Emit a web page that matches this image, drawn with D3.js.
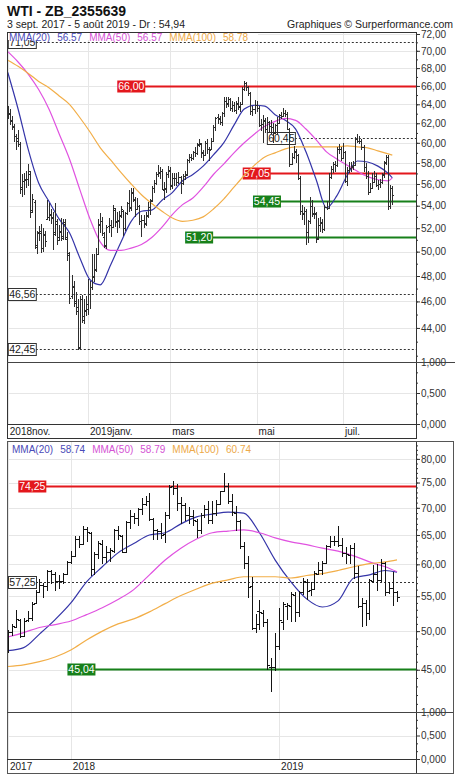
<!DOCTYPE html>
<html>
<head>
<meta charset="utf-8">
<script src="https://cdn.jsdelivr.net/npm/d3@7"></script>
<style>
body { margin: 0; background: #fff; }
svg { display: block; }
</style>
</head>
<body>
<div id="chart"></div>
<script>
// daily bars, top chart: date, open, high, low, close
const dailyOHLC = [
["2018-11-05",63.2,63.8,62.4,63.10],["2018-11-06",63.0,63.5,61.8,62.21],["2018-11-07",62.3,62.8,61.3,61.67],
["2018-11-08",61.6,61.9,60.1,60.67],["2018-11-09",60.7,60.9,59.3,60.19],["2018-11-12",60.5,61.3,59.6,59.93],
["2018-11-13",59.9,60.1,55.1,55.69],["2018-11-14",55.5,56.9,54.8,56.25],["2018-11-15",56.3,57.0,55.0,56.46],
["2018-11-16",56.4,57.2,55.6,56.46],["2018-11-19",56.5,57.9,55.8,57.20],["2018-11-20",56.9,57.2,52.9,53.43],
["2018-11-21",53.6,55.1,53.3,54.63],["2018-11-23",54.3,54.5,50.2,50.42],["2018-11-26",50.6,51.8,49.8,51.63],
["2018-11-27",51.6,52.2,50.9,51.56],["2018-11-28",51.8,52.4,49.9,50.29],["2018-11-29",50.3,52.0,50.0,51.45],
["2018-11-30",51.5,51.8,50.4,50.93],
["2018-12-03",52.8,54.5,52.7,52.95],["2018-12-04",53.0,54.2,52.6,53.25],["2018-12-05",53.2,53.7,52.4,52.89],
["2018-12-06",53.0,53.4,50.1,51.49],["2018-12-07",51.7,54.2,51.3,52.61],["2018-12-10",52.4,52.8,50.6,51.00],
["2018-12-11",51.2,52.3,50.9,51.65],["2018-12-12",51.8,52.9,50.9,51.15],["2018-12-13",51.3,52.8,51.0,52.58],
["2018-12-14",52.4,52.8,51.0,51.20],["2018-12-17",51.1,51.7,49.2,49.88],["2018-12-18",49.7,50.0,45.8,46.24],
["2018-12-19",46.4,48.1,46.2,47.20],["2018-12-20",47.1,47.6,45.6,45.88],["2018-12-21",46.0,46.7,45.0,45.59],
["2018-12-24",45.3,46.2,42.4,42.53],["2018-12-26",42.6,46.4,42.4,46.22],["2018-12-27",46.2,46.5,44.4,44.61],
["2018-12-28",44.9,46.2,44.3,45.33],["2018-12-31",45.3,46.4,44.9,45.41],
["2019-01-02",45.8,47.8,45.0,46.54],["2019-01-03",46.6,47.6,45.4,47.09],["2019-01-04",47.1,49.8,46.9,47.96],
["2019-01-07",48.0,49.8,47.5,48.52],["2019-01-08",48.6,50.3,48.3,49.78],["2019-01-09",49.8,52.8,49.7,52.36],
["2019-01-10",52.3,53.3,51.6,52.59],["2019-01-11",52.6,53.0,51.3,51.59],["2019-01-14",51.2,51.7,50.3,50.51],
["2019-01-15",50.6,52.3,50.2,52.11],["2019-01-16",52.2,52.9,51.6,52.31],["2019-01-17",52.3,52.7,51.2,52.07],
["2019-01-18",52.1,54.1,52.0,53.80],["2019-01-22",53.6,53.8,52.1,52.57],["2019-01-23",52.6,53.4,51.6,52.62],
["2019-01-24",52.7,53.5,52.0,53.13],["2019-01-25",53.1,54.0,52.9,53.69],["2019-01-28",53.5,53.6,51.3,51.99],
["2019-01-29",52.0,53.4,51.8,53.31],["2019-01-30",53.3,54.3,53.2,54.23],["2019-01-31",54.2,55.4,53.4,53.79],
["2019-02-01",53.9,55.6,53.5,55.26],["2019-02-04",55.2,55.6,54.3,54.56],["2019-02-05",54.6,54.8,53.0,53.66],
["2019-02-06",53.7,54.7,53.6,54.01],["2019-02-07",54.0,54.1,52.3,52.64],["2019-02-08",52.6,53.2,51.2,52.72],
["2019-02-11",52.7,53.2,52.0,52.41],["2019-02-12",52.5,53.4,52.2,53.10],["2019-02-13",53.2,54.3,52.9,53.90],
["2019-02-14",53.9,54.6,53.2,54.41],["2019-02-15",54.5,55.8,54.3,55.59],["2019-02-19",55.6,56.4,55.2,56.09],
["2019-02-20",56.1,57.1,55.9,56.92],["2019-02-21",56.9,57.8,56.7,57.03],["2019-02-22",57.1,57.6,56.5,57.26],
["2019-02-25",57.2,57.4,55.4,55.48],["2019-02-26",55.5,56.2,54.5,55.50],["2019-02-27",55.6,57.1,55.2,56.94],
["2019-02-28",56.9,57.7,56.6,57.22],
["2019-03-01",57.3,57.6,55.4,55.80],["2019-03-04",55.9,57.0,55.5,56.59],["2019-03-05",56.6,57.0,55.8,56.56],
["2019-03-06",56.6,57.0,55.8,56.22],["2019-03-07",56.2,57.1,56.0,56.66],["2019-03-08",56.7,56.8,55.1,56.07],
["2019-03-11",56.1,56.9,55.9,56.79],["2019-03-12",56.8,57.2,56.4,56.87],["2019-03-13",56.9,58.4,56.8,58.26],
["2019-03-14",58.3,58.9,58.0,58.61],["2019-03-15",58.6,58.9,58.2,58.52],["2019-03-18",58.5,59.2,58.3,59.09],
["2019-03-19",59.1,59.6,58.6,59.03],["2019-03-20",59.0,60.0,58.8,59.83],["2019-03-21",59.9,60.4,59.6,59.98],
["2019-03-22",59.9,60.0,58.5,59.04],["2019-03-25",59.0,59.3,58.2,58.82],["2019-03-26",58.8,60.2,58.8,59.94],
["2019-03-27",60.0,60.4,58.9,59.41],["2019-03-28",59.4,59.6,58.2,59.30],["2019-03-29",59.4,60.5,59.3,60.14],
["2019-04-01",60.2,61.8,60.1,61.59],["2019-04-02",61.6,62.7,61.2,62.58],["2019-04-03",62.6,63.0,61.9,62.46],
["2019-04-04",62.5,62.8,61.8,62.10],["2019-04-05",62.1,63.2,61.7,63.08],["2019-04-08",63.1,64.8,62.7,64.40],
["2019-04-09",64.4,64.8,63.6,64.05],["2019-04-10",64.1,64.8,63.7,64.61],["2019-04-11",64.6,64.7,63.3,63.58],
["2019-04-12",63.6,64.3,63.2,63.89],["2019-04-15",63.9,64.2,63.2,63.40],["2019-04-16",63.4,64.3,63.0,64.05],
["2019-04-17",64.1,64.8,63.4,63.76],["2019-04-18",63.8,64.2,63.2,64.00],["2019-04-22",64.0,65.9,63.9,65.70],
["2019-04-23",65.7,66.6,65.4,66.30],["2019-04-24",66.3,66.4,65.4,65.89],["2019-04-25",65.9,66.0,64.9,65.21],
["2019-04-26",65.2,65.3,62.9,63.30],["2019-04-29",63.3,63.8,62.8,63.50],["2019-04-30",63.5,64.5,63.0,63.91],
["2019-05-01",63.9,64.4,63.2,63.60],["2019-05-02",63.6,63.8,61.6,61.81],["2019-05-03",61.8,62.4,61.2,61.94],
["2019-05-06",61.9,62.9,60.0,62.25],["2019-05-07",62.3,62.5,61.0,61.40],["2019-05-08",61.4,62.7,61.0,62.12],
["2019-05-09",62.1,62.2,61.1,61.70],["2019-05-10",61.7,62.3,60.9,61.66],["2019-05-13",61.6,62.0,60.0,61.04],
["2019-05-14",61.1,61.9,60.9,61.78],["2019-05-15",61.8,62.7,60.8,62.02],["2019-05-16",62.0,63.0,61.9,62.87],
["2019-05-17",62.9,63.2,62.4,62.76],["2019-05-20",62.8,63.6,62.7,63.10],["2019-05-21",63.1,63.4,62.6,62.99],
["2019-05-22",63.0,63.2,61.3,61.42],["2019-05-23",61.4,61.5,57.6,57.91],["2019-05-24",57.9,59.0,57.9,58.63],
["2019-05-28",58.6,59.7,58.4,59.14],["2019-05-29",59.1,59.4,58.0,58.81],["2019-05-30",58.8,58.9,56.4,56.59],
["2019-05-31",56.6,56.8,53.2,53.50],
["2019-06-03",53.5,54.1,52.7,53.25],["2019-06-04",53.3,53.9,52.3,53.48],["2019-06-05",53.5,53.7,50.6,51.68],
["2019-06-06",51.7,52.7,50.7,52.59],["2019-06-07",52.6,54.8,52.4,53.99],["2019-06-10",54.0,54.5,53.0,53.26],
["2019-06-11",53.3,53.9,52.8,53.27],["2019-06-12",53.3,53.4,50.7,51.14],["2019-06-13",51.1,52.9,51.1,52.28],
["2019-06-14",52.3,53.0,51.7,52.51],["2019-06-17",52.5,52.8,51.6,51.93],["2019-06-18",51.9,54.1,51.8,53.90],
["2019-06-19",53.9,54.4,53.6,53.76],["2019-06-20",53.8,57.0,53.7,56.65],["2019-06-21",56.7,57.7,56.5,57.43],
["2019-06-24",57.4,58.1,57.0,57.90],["2019-06-25",57.9,58.2,57.1,57.83],["2019-06-26",57.8,59.6,57.6,59.38],
["2019-06-27",59.4,59.9,58.9,59.43],["2019-06-28",59.4,59.6,58.2,58.47],
["2019-07-01",58.5,60.0,58.4,59.09],["2019-07-02",59.1,59.2,56.1,56.25],["2019-07-03",56.3,57.6,55.8,57.34],
["2019-07-05",57.3,58.1,57.0,57.51],["2019-07-08",57.5,58.1,57.1,57.66],["2019-07-09",57.7,58.2,57.3,57.83],
["2019-07-10",57.8,60.6,57.8,60.43],["2019-07-11",60.4,60.9,60.0,60.20],["2019-07-12",60.2,60.7,59.9,60.21],
["2019-07-15",60.2,60.4,59.3,59.58],["2019-07-16",59.6,59.8,57.1,57.62],["2019-07-17",57.6,58.0,56.5,56.78],
["2019-07-18",56.8,57.2,55.0,55.30],["2019-07-19",55.3,56.1,55.2,55.63],["2019-07-22",55.6,57.0,55.5,56.22],
["2019-07-23",56.2,57.2,56.1,56.77],["2019-07-24",56.8,57.0,55.7,55.88],["2019-07-25",55.9,56.4,55.4,56.02],
["2019-07-26",56.0,56.5,55.6,56.20],["2019-07-29",56.2,57.0,56.0,56.87],["2019-07-30",56.9,58.2,56.6,58.05],
["2019-07-31",58.1,58.8,57.8,58.58],
["2019-08-01",58.6,58.8,53.6,53.95],["2019-08-02",54.0,55.9,53.7,55.66],["2019-08-05",55.6,55.8,54.1,54.94]
];

// moving averages, at these bar numbers
const dailyMAIndex = [0,5,10,15,20,25,30,35,40,45,50,55,60,65,70,75,80,85,90,95,100,105,110,115,120,125,130,135,140,145,150,155,160,165,170,175,180,185,187];
const dailyMA20 = [67.5,63.5,59.3,56.1,54.4,52.8,51.6,49.5,47.7,47.3,48.9,50.8,52.6,53.5,53.6,54.5,55.2,56.3,56.9,57.7,58.8,60.0,61.8,63.5,63.9,63.8,62.9,62.3,61.4,59.1,56.4,53.8,54.9,56.8,58.2,58.1,57.7,57.0,56.57];
const dailyMA50 = [69.9,68.7,67.3,65.6,63.5,60.9,58.4,55.5,52.8,50.8,50.1,50.1,50.3,50.6,51.2,52.1,53.2,54.1,54.7,55.7,56.9,57.9,59.0,60.0,60.9,61.7,62.2,62.5,62.3,61.4,60.3,59.1,58.4,57.8,57.2,56.7,56.4,56.3,56.57];
const dailyMA100 = [68.9,68.2,67.4,66.5,65.8,64.9,64.0,62.6,61.1,59.5,58.3,57.1,56.0,55.0,54.2,53.5,52.9,52.6,52.7,53.0,53.7,54.6,55.7,56.8,57.8,58.6,59.0,59.4,59.6,59.6,59.6,59.6,59.6,59.7,59.6,59.5,59.2,58.9,58.78];

// weekly bars, bottom chart: week (monday), open, high, low, close
const weeklyOHLC = [
["2017-09-11",47.5,50.2,47.1,49.89],["2017-09-18",49.9,51.0,49.3,50.66],["2017-09-25",50.6,52.9,50.5,51.67],
["2017-10-02",51.6,51.7,49.1,49.29],["2017-10-09",49.3,51.8,49.2,51.45],["2017-10-16",51.5,52.8,51.3,51.84],
["2017-10-23",51.8,54.2,51.4,53.90],["2017-10-30",54.0,55.9,53.8,55.64],["2017-11-06",55.7,57.7,55.5,56.74],
["2017-11-13",56.7,57.0,54.8,56.55],["2017-11-20",56.5,59.1,55.8,58.95],["2017-11-27",58.9,59.0,56.8,58.36],
["2017-12-04",58.4,58.7,55.8,57.36],["2017-12-11",57.4,58.2,56.1,57.30],["2017-12-18",57.3,58.6,56.8,58.47],
["2017-12-25",58.5,60.5,58.3,60.42],["2018-01-01",60.4,62.2,60.1,61.44],["2018-01-08",61.4,64.8,61.4,64.30],
["2018-01-15",64.3,64.9,62.8,63.37],["2018-01-22",63.4,66.7,63.2,66.14],["2018-01-29",66.1,66.4,63.7,65.45],
["2018-02-05",65.4,65.6,58.1,59.20],["2018-02-12",59.2,62.0,58.3,61.68],["2018-02-19",61.7,64.0,60.9,63.55],
["2018-02-26",63.5,64.2,60.1,61.25],["2018-03-05",61.2,63.1,60.2,62.04],["2018-03-12",62.0,62.7,60.3,62.34],
["2018-03-19",62.3,66.0,61.8,65.88],["2018-03-26",65.9,66.6,64.1,64.94],["2018-04-02",64.9,65.0,61.8,62.06],
["2018-04-09",62.1,67.5,62.1,67.39],["2018-04-16",67.4,69.6,66.1,68.38],["2018-04-23",68.4,69.0,66.9,68.10],
["2018-04-30",68.1,69.9,66.7,69.72],["2018-05-07",69.7,71.9,68.6,70.70],["2018-05-14",70.7,72.3,70.3,71.28],
["2018-05-21",71.3,72.9,67.5,67.88],["2018-05-28",67.9,68.1,64.2,65.81],["2018-06-04",65.8,66.0,64.2,65.74],
["2018-06-11",65.7,67.2,64.3,65.06],["2018-06-18",65.1,69.3,63.6,68.58],["2018-06-25",68.6,74.5,67.9,74.15],
["2018-07-02",74.2,75.3,72.5,73.80],["2018-07-09",73.8,74.7,69.4,71.01],["2018-07-16",71.0,72.1,67.0,70.46],
["2018-07-23",70.5,70.9,67.6,68.69],["2018-07-30",68.7,70.2,66.9,68.49],["2018-08-06",68.5,69.5,66.6,67.63],
["2018-08-13",67.6,67.9,64.4,65.91],["2018-08-20",65.9,69.0,65.1,68.72],["2018-08-27",68.7,70.5,68.1,69.80],
["2018-09-03",69.8,71.4,67.0,67.75],["2018-09-10",67.8,71.4,66.9,68.99],["2018-09-17",69.0,71.6,68.4,70.78],
["2018-09-24",70.8,73.3,70.6,73.25],["2018-10-01",73.3,76.9,73.0,74.34],["2018-10-08",74.3,75.0,70.8,71.34],
["2018-10-15",71.3,72.7,68.5,69.12],["2018-10-22",69.1,70.3,65.7,67.59],["2018-10-29",67.6,67.7,62.5,63.14],
["2018-11-05",63.1,63.8,59.3,60.19],["2018-11-12",60.2,61.3,54.8,56.46],["2018-11-19",56.5,57.9,50.2,50.42],
["2018-11-26",50.4,52.4,49.8,50.93],["2018-12-03",52.8,54.5,50.1,52.61],["2018-12-10",52.6,52.9,50.6,51.20],
["2018-12-17",51.2,51.7,45.0,45.59],["2018-12-24",45.3,46.5,42.4,45.33],["2018-12-31",45.4,49.8,44.9,47.96],
["2019-01-07",48.0,53.3,47.5,51.59],["2019-01-14",51.2,54.1,50.2,53.80],["2019-01-21",53.6,54.0,51.6,53.69],
["2019-01-28",53.5,55.6,51.3,55.26],["2019-02-04",55.2,55.6,51.2,52.72],["2019-02-11",52.7,55.8,52.0,55.59],
["2019-02-18",55.6,57.8,55.2,57.26],["2019-02-25",57.2,57.7,54.5,55.80],["2019-03-04",55.9,57.1,55.1,56.07],
["2019-03-11",56.1,58.9,55.9,58.52],["2019-03-18",58.5,60.4,58.3,59.04],["2019-03-25",59.0,60.5,58.2,60.14],
["2019-04-01",60.2,63.2,60.1,63.08],["2019-04-08",63.1,64.8,62.7,63.89],["2019-04-15",63.9,64.8,63.0,64.00],
["2019-04-22",64.0,66.6,62.9,63.30],["2019-04-29",63.3,64.5,61.2,61.94],["2019-05-06",61.9,62.9,60.0,61.66],
["2019-05-13",61.6,63.2,60.0,62.76],["2019-05-20",62.8,63.6,57.6,58.63],["2019-05-27",58.6,59.7,53.2,53.50],
["2019-06-03",53.5,54.8,50.6,53.99],["2019-06-10",54.0,54.5,50.7,52.51],["2019-06-17",52.5,57.7,51.6,57.43],
["2019-06-24",57.4,59.9,57.0,58.47],["2019-07-01",58.5,60.0,55.8,57.51],["2019-07-08",57.5,60.9,57.1,60.21],
["2019-07-15",60.2,60.4,55.0,55.63],["2019-07-22",55.6,57.2,55.4,56.20],["2019-07-29",56.2,58.8,53.6,55.66],
["2019-08-05",55.6,55.8,54.1,54.94]
];

const weeklyMAIndex = [0,4,8,12,16,20,24,28,32,36,40,44,48,52,56,60,64,68,72,76,80,84,88,92,96,99];
const weeklyMA20 = [47.4,47.8,49.6,51.6,54.0,57.2,59.6,61.9,63.5,65.0,65.4,67.0,68.3,68.8,69.2,69.0,65.4,60.7,57.2,54.6,53.4,54.3,57.8,58.3,59.0,58.74];
const weeklyMA50 = [49.2,49.8,50.5,50.9,51.4,52.3,53.3,54.5,56.0,58.3,60.7,62.7,64.3,65.4,65.7,65.9,65.4,64.5,63.8,63.3,62.7,62.2,61.4,60.4,59.6,58.79];
const weeklyMA100 = [45.4,45.6,46.0,46.6,47.5,48.8,50.0,51.0,51.7,52.7,53.9,55.1,56.1,57.0,57.5,58.0,58.0,58.0,57.8,58.2,58.5,59.0,59.6,60.1,60.4,60.74];

const maNames = ["MMA(20)", "MMA(50)", "MMA(100)"];
const topLegendValues = ["56.57", "56.57", "58.78"];
const bottomLegendValues = ["58.74", "58.79", "60.74"];

// support / resistance levels: value, kind, bar where the label sits
const topLevels = [[71.05,"dash",0],[66.00,"red",53],[60.45,"dash",126],[57.05,"red",114],[54.45,"green",119],[51.20,"green",86],[46.56,"dash",0],[42.45,"dash",0]];
const bottomLevels = [[74.25,"red",2.5],[57.25,"dash",0],[45.04,"green",15]];

const topPeriodKeys = ["2018-11", "2019-01", "2019-03", "2019-05", "2019-07"];
const topPeriodLabels = ["2018nov.", "2019janv.", "mars", "mai", "juil."];
const bottomPeriodKeys = ["2017", "2018", "2019"];
const bottomPeriodLabels = ["2017", "2018", "2019"];

const topPriceTicks = [44,46,48,50,52,54,56,58,60,62,64,66,68,70,72];
const bottomPriceTicks = [45,50,55,60,65,70,75,80];
const volumeTicks = [0, 0.5, 1];

const FONT = '"Liberation Sans", Arial, sans-serif';
const maColors = ["#3434a8", "#e052e0", "#f2ae48"];
const legendColors = ["#4a4ab8", "#d452d4", "#eda948"];
const levelColors = {red: "#e3171c", green: "#17801a"};

let config_size = {
    svg_width: 460,
    svg_height: 782,
    left: 7,
    plot_right: 416,
    frame_right: 453,
};

const fmt2 = v => d3.format(".2f")(v).replace(".", ",");
const fmt3 = v => d3.format(".3f")(v).replace(".", ",");

let svg = d3.select("#chart").append("svg")
    .attr("width", config_size.svg_width).attr("height", config_size.svg_height)
    .attr("font-family", FONT);

// header
svg.append("text").attr("x", 7).attr("y", 16).attr("font-size", 14).attr("font-weight", "bold")
    .attr("fill", "#111").text("WTI - ZB_2355639");
svg.append("text").attr("x", 7).attr("y", 28).attr("font-size", 10.5).attr("fill", "#222")
    .text("3 sept. 2017 - 5 août 2019 - Dr : 54,94");
svg.append("text").attr("x", 453).attr("y", 28).attr("font-size", 10.5).attr("fill", "#222")
    .attr("text-anchor", "end").text("Graphiques © Surperformance.com");

function drawPanel(p, id) {
    const L = config_size.left, R = config_size.plot_right;
    const n = p.bars.length;
    const x = d3.scaleLinear().domain([0, n - 1]).range([p.barFirst, p.barLast]);
    const y = d3.scaleLog().domain(p.yDomain).range([p.priceBottom, p.priceTop]);
    const yv = d3.scaleLinear().domain([0, 1]).range([p.volBottom, p.priceBottom]);
    const g = svg.append("g");

    // grid
    const grid = g.append("g").attr("stroke", "#e6e6e6").attr("shape-rendering", "crispEdges");
    p.majorTicks.forEach(t => {
        const yy = Math.round(y(t)) + 0.5;
        grid.append("line").attr("x1", L).attr("x2", R).attr("y1", yy).attr("y2", yy);
    });
    grid.append("line").attr("x1", L).attr("x2", R)
        .attr("y1", Math.round(yv(0.5)) + 0.5).attr("y2", Math.round(yv(0.5)) + 0.5);
    const periodIdx = p.periodKeys.map(k => p.bars.findIndex(b => b[0].startsWith(k)));
    periodIdx.forEach(i => {
        const xx = Math.round(x(i)) + 0.5;
        grid.append("line").attr("x1", xx).attr("x2", xx).attr("y1", p.priceTop).attr("y2", p.volBottom);
    });

    // clipped price pane
    svg.append("clipPath").attr("id", "clip" + id).append("rect")
        .attr("x", L).attr("y", p.priceTop).attr("width", R - L).attr("height", p.priceBottom - p.priceTop);
    const pane = g.append("g").attr("clip-path", `url(#clip${id})`);

    // levels
    const boxW = 28, boxH = 12;
    p.levels.forEach(([value, kind, anchor]) => {
        const yy = Math.round(y(value)) + 0.5;
        const bx = Math.max(L, x(anchor));
        const col = levelColors[kind];
        pane.append("line").attr("x1", bx + boxW).attr("x2", R).attr("y1", yy).attr("y2", yy)
            .attr("stroke", col || "#333").attr("stroke-width", col ? 1.8 : 1)
            .attr("stroke-dasharray", col ? null : "2,2");
        pane.append("rect").attr("x", bx + 0.5).attr("y", yy - boxH / 2).attr("width", boxW).attr("height", boxH)
            .attr("fill", col || "#fff").attr("stroke", col ? "none" : "#333");
        pane.append("text").attr("x", bx + boxW / 2 + 0.5).attr("y", yy).attr("dy", "0.36em")
            .attr("text-anchor", "middle").attr("font-size", 10.5)
            .attr("fill", col ? "#fff" : "#222").text(fmt2(value));
    });

    // moving averages
    p.ma.forEach((vals, k) => {
        const pts = vals.map((v, j) => ({i: p.maIndex[j], v: v}));
        pane.append("path").datum(pts)
            .attr("fill", "none").attr("stroke", maColors[k]).attr("stroke-width", 1.2)
            .attr("d", d3.line().x(d => x(d.i)).y(d => y(d.v)).curve(d3.curveMonotoneX));
    });

    // OHLC bars
    const bg = pane.append("g").attr("stroke", p.barColor).attr("shape-rendering", "crispEdges");
    p.bars.forEach(([date, o, h, l, c], i) => {
        const xx = Math.round(x(i)) + 0.5;
        bg.append("line").attr("x1", xx).attr("x2", xx).attr("y1", y(h)).attr("y2", y(l));
        const yo = Math.round(y(o)) + 0.5, yc = Math.round(y(c)) + 0.5;
        bg.append("line").attr("x1", xx - p.tick - 0.5).attr("x2", xx).attr("y1", yo).attr("y2", yo);
        bg.append("line").attr("x1", xx).attr("x2", xx + p.tick + 0.5).attr("y1", yc).attr("y2", yc);
    });

    // legend
    if (p.legendBand) {
        g.append("rect").attr("x", L + 1).attr("y", p.priceTop + 1).attr("width", 250).attr("height", 7).attr("fill", "#fff");
    }
    let lx = p.legendX;
    maNames.forEach((name, k) => {
        [name, p.legend[k]].forEach(s => {
            const t = g.append("text").attr("x", lx).attr("y", p.legendY).attr("dy", "0.35em")
                .attr("font-size", 10).attr("fill", legendColors[k]).text(s);
            lx += t.node().getComputedTextLength() + 7;
        });
    });

    // period labels
    periodIdx.forEach((i, k) => {
        g.append("text").attr("x", Math.max(L, x(i)) + 2).attr("y", (p.volBottom + p.labelBottom) / 2)
            .attr("dy", "0.36em").attr("font-size", 10).attr("fill", "#222").text(p.periodLabels[k]);
    });

    // right axes
    const styleAxis = a => {
        a.attr("font-family", FONT).attr("font-size", 10);
        a.select(".domain").remove();
        a.selectAll("line").attr("stroke", "#333");
        a.selectAll("text").attr("fill", "#333");
    };
    const ax = g.append("g").attr("transform", `translate(${R},0)`);
    ax.append("g").call(d3.axisRight(y).tickValues(d3.range(p.minorRange[0], p.minorRange[1] + 1, p.minorStep))
        .tickSize(2).tickFormat("")).call(styleAxis);
    ax.append("g").call(d3.axisRight(y).tickValues(p.majorTicks).tickSize(4).tickPadding(1).tickFormat(fmt2)).call(styleAxis);
    ax.append("g").call(d3.axisRight(yv).tickValues([1 / 6, 2 / 6, 4 / 6, 5 / 6]).tickSize(2).tickFormat("")).call(styleAxis);
    ax.append("g").call(d3.axisRight(yv).tickValues(volumeTicks).tickSize(4).tickPadding(1).tickFormat(fmt3)).call(styleAxis);

    // frame
    const fr = g.append("g").attr("fill", "none").attr("shape-rendering", "crispEdges");
    fr.append("rect").attr("x", L + 0.5).attr("y", p.priceTop + 0.5)
        .attr("width", R - L).attr("height", p.labelBottom - p.priceTop).attr("stroke", "#333");
    if (p.outerFrame) {
        fr.append("rect").attr("x", L + 0.5).attr("y", p.priceTop + 0.5)
            .attr("width", config_size.frame_right - L).attr("height", p.labelBottom - p.priceTop).attr("stroke", "#555");
    }
    fr.append("line").attr("x1", L).attr("x2", p.dividerRight)
        .attr("y1", p.priceBottom + 0.5).attr("y2", p.priceBottom + 0.5).attr("stroke", "#444").attr("stroke-width", 1.5);
    fr.append("line").attr("x1", L).attr("x2", R)
        .attr("y1", p.volBottom + 0.5).attr("y2", p.volBottom + 0.5).attr("stroke", "#333");
}

drawPanel({
    bars: dailyOHLC, maIndex: dailyMAIndex, ma: [dailyMA20, dailyMA50, dailyMA100],
    legend: topLegendValues, levels: topLevels,
    periodKeys: topPeriodKeys, periodLabels: topPeriodLabels,
    majorTicks: topPriceTicks, minorRange: [42, 72], minorStep: 1,
    priceTop: 32, priceBottom: 362, volBottom: 424, labelBottom: 438,
    barFirst: 7.8, barLast: 392.3, yDomain: [41.56, 72.24],
    tick: 1, barColor: "#2e2e2e", legendX: 9, legendY: 37, legendBand: true,
    outerFrame: false, dividerRight: 455,
}, "top");

drawPanel({
    bars: weeklyOHLC, maIndex: weeklyMAIndex, ma: [weeklyMA20, weeklyMA50, weeklyMA100],
    legend: bottomLegendValues, levels: bottomLevels,
    periodKeys: bottomPeriodKeys, periodLabels: bottomPeriodLabels,
    majorTicks: bottomPriceTicks, minorRange: [41, 83], minorStep: 1,
    priceTop: 441, priceBottom: 712, volBottom: 759, labelBottom: 773,
    barFirst: 8, barLast: 397, yDomain: [40.1, 84.0],
    tick: 2, barColor: "#141414", legendX: 12, legendY: 449, legendBand: false,
    outerFrame: true, dividerRight: 453,
}, "bottom");
</script>
</body>
</html>
